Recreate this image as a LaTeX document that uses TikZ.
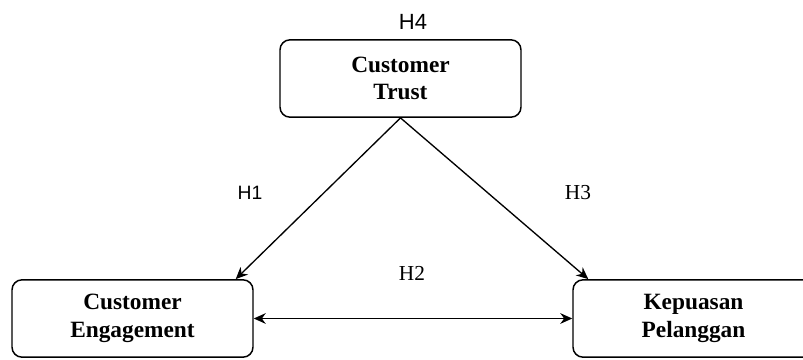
\documentclass[tikz,border=0pt]{standalone}
\usepackage{fontspec}
\setmainfont{Liberation Serif}
\setsansfont{Liberation Sans}
\usetikzlibrary{arrows.meta}

\tikzset{
  varbox/.style={draw, rounded corners=7.5pt, line width=1.1pt, align=center,
    minimum width=180.75pt, minimum height=58pt, inner sep=0pt,
    font=\fontsize{17.5}{20.5}\selectfont\bfseries},
  hlink/.style={line width=1pt, -{Stealth[length=9pt,width=8pt]}},
  hlabel/.style={font=\fontsize{16}{18}\selectfont}
}

\begin{document}
\begin{tikzpicture}[x=0.75pt, y=-0.75pt]
			\useasboundingbox (0,0) rectangle (803,360);

			% Variable boxes
			\node[varbox] (trust) at (400.5, 78.5) {Customer\\Trust};
			\node[varbox] (engage) at (132.5, 318.5) {Customer\\Engagement};
			\node[varbox] (puas) at (693.5, 318.5) {Kepuasan\\Pelanggan};

			% Hypothesis labels
			\node[hlabel, font=\fontsize{16.5}{18}\selectfont\sffamily] (h4) at (413, 22) {H4};
			\node[hlabel, font=\fontsize{14.5}{17}\selectfont\sffamily] (h1) at (250, 193) {H1};
			\node[hlabel] (h3) at (578, 193) {H3};
			\node[hlabel] (h2) at (412, 273) {H2};

			% Connections
			\draw[hlink] (trust.south) -- ([xshift=-13.5pt]engage.north east);
			\draw[hlink] (trust.south) -- ([xshift=12pt]puas.north west);
			\draw[hlink, {Stealth[length=9pt,width=8pt]}-{Stealth[length=9pt,width=8pt]}] (engage.east) -- (puas.west);
		\end{tikzpicture}
\end{document}
